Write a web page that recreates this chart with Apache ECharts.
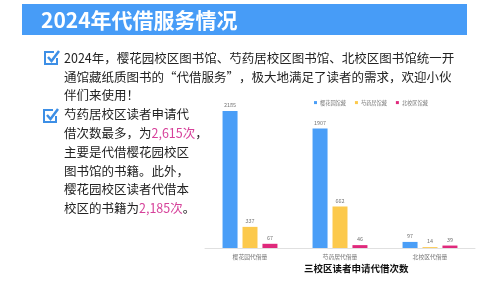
<!DOCTYPE html>
<html>
<head>
<meta charset="utf-8">
<script src="https://cdn.jsdelivr.net/npm/echarts@6/dist/echarts.min.js"></script>
<style>
html,body{margin:0;padding:0;background:#fff;}
#c{width:500px;height:281px;}
</style>
</head>
<body>
<div id="c"></div>
<script>
var categories = ['樱花园代借量', '芍药居代借量', '北校区代借量'];
var seriesNames = ['樱花园馆藏', '芍药居馆藏', '北校区馆藏'];
var sakuraValues = [2185, 1907, 97];
var shaoyaoValues = [337, 662, 14];
var northValues = [67, 46, 39];
var headerTitle = '2024年代借服务情况';
var chartTitle = '三校区读者申请代借次数';
var para1 = '2024年，樱花园校区图书馆、芍药居校区图书馆、北校区图书馆统一开\n通馆藏纸质图书的“代借服务”，极大地满足了读者的需求，欢迎小伙\n伴们来使用！';
var para2 = '芍药居校区读者申请代\n借次数最多，为{p|2,615次}，\n主要是代借樱花园校区\n图书馆的书籍。此外，\n樱花园校区读者代借本\n校区的书籍为{p|2,185次}。';

var colors = ['#4a9ef7', '#fcc94c', '#e0297c'];
var FONT = '"Noto Sans CJK SC", "Noto Sans", sans-serif';

function checkbox(x, y) {
  return [
    { type: 'polyline', shape: { points: [[x + 9, y], [x, y], [x, y + 12], [x + 12, y + 12], [x + 12, y + 6]] },
      style: { fill: 'none', stroke: '#3d8fe6', lineWidth: 2 } },
    { type: 'polyline', shape: { points: [[x + 3, y + 5], [x + 6.5, y + 9], [x + 14, y - 1]] },
      style: { fill: 'none', stroke: '#3d8fe6', lineWidth: 2.5 } }
  ];
}

var chart = echarts.init(document.getElementById('c'), null, { renderer: 'canvas' });
var graphics = [
  { type: 'rect', shape: { x: 22, y: 4, width: 445, height: 31 }, style: { fill: '#479cf7' } },
  { type: 'text', x: 41, y: 20, style: { text: headerTitle, fill: '#fff', font: 'bold 21px ' + FONT, verticalAlign: 'middle' } },
  { type: 'text', x: 64, y: 49, style: { text: para1, fill: '#222', font: '12.5px ' + FONT, lineHeight: 18.5 } },
  { type: 'text', x: 64, y: 105, style: { text: para2, fill: '#222', font: '12.5px ' + FONT, lineHeight: 18.8,
      rich: { p: { fill: '#d6419a', font: '12.5px ' + FONT, lineHeight: 18.8 } } } }
].concat(checkbox(45, 52)).concat(checkbox(44, 110));

function barSeries(name, data, color) {
  return {
    name: name, type: 'bar', data: data, barWidth: 15, barGap: '33%',
    itemStyle: { color: color },
    label: { show: true, position: 'top', distance: 3, fontSize: 5.5, color: '#777', fontFamily: FONT }
  };
}

chart.setOption({
  animation: false,
  color: colors,
  title: { text: chartTitle, left: 304, top: 264, padding: 0,
    textStyle: { fontSize: 9.5, fontWeight: 'bold', color: '#111', fontFamily: FONT } },
  legend: { data: seriesNames, top: 100, left: 314, icon: 'rect', itemWidth: 3, itemHeight: 3, itemGap: 9,
    padding: 0, textStyle: { fontSize: 5.2, color: '#777', fontFamily: FONT, padding: [0, 0, 0, -2] } },
  grid: { left: 205, right: 25, top: 111, bottom: 33, containLabel: false },
  xAxis: { type: 'category', data: categories,
    axisLine: { lineStyle: { color: '#e0e0e0' } }, axisTick: { show: false },
    axisLabel: { fontSize: 5.8, color: '#777', margin: 6, fontFamily: FONT } },
  yAxis: { type: 'value', min: 0, max: 2185, show: false, splitLine: { show: false } },
  series: [
    barSeries(seriesNames[0], sakuraValues, colors[0]),
    barSeries(seriesNames[1], shaoyaoValues, colors[1]),
    barSeries(seriesNames[2], northValues, colors[2])
  ],
  graphic: graphics
});
</script>
</body>
</html>
